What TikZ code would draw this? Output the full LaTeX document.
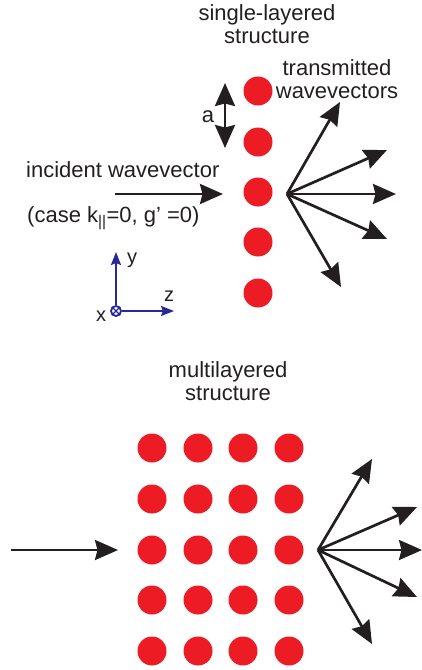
\documentclass[tikz,border=0pt]{standalone}
\usepackage{fontspec}
\setmainfont{Liberation Sans}
\usetikzlibrary{positioning,arrows.meta}
\definecolor{dotclr}{RGB}{237,28,36}
\definecolor{inkclr}{RGB}{35,31,32}
\definecolor{axisclr}{RGB}{40,40,150}
\tikzset{
    atom/.style={circle,fill=dotclr,minimum size=29pt,inner sep=0pt},
    txt/.style={text=inkclr,font=\fontsize{22}{23}\selectfont,inner sep=0pt,align=center},
    axtxt/.style={text=inkclr,font=\fontsize{20}{22}\selectfont,inner sep=0pt},
    wave/.style={-{Stealth[length=23pt,width=20pt,inset=2.5pt]},line width=2.7pt,draw=inkclr},
    spacing/.style={wave,{Stealth[length=23pt,width=20pt,inset=2.5pt]}-{Stealth[length=23pt,width=20pt,inset=2.5pt]}},
    axis/.style={-{Stealth[length=13pt,width=10pt,inset=2pt]},line width=2pt,draw=axisclr},
    axdot/.style={circle,draw=axisclr,line width=1.8pt,minimum size=10pt,inner sep=0pt},
}
\begin{document}
\begin{tikzpicture}[x=1pt,y=-1pt]
\useasboundingbox (0,0) rectangle (422,670);
% single layer
\foreach \j/\yy in {1/91,2/142,3/192,4/242,5/293}
  \node[atom] (s\j) at (258,\yy) {};
\node[txt,anchor=north] (slab) at (267,4) {single-layered\\structure};
\node[txt,anchor=north] (tlab) at (337,59) {transmitted\\wavevectors};
\coordinate (aT) at (225,83);
\coordinate (aB) at (225,148);
\draw[spacing] (aT) -- (aB);
\node[txt,anchor=base] (alab) at (208,122) {a};
\node[txt,anchor=base west] (inlab) at (26,177) {incident wavevector};
\node[txt,anchor=base west] (caselab) at (27,222) {(case k\textsubscript{||}=0, g’ =0)};
\coordinate (inA) at (115,194);
\coordinate (inB) at (223,194);
\draw[wave] (inA) -- (inB);
\coordinate (tr) at (287,194);
\coordinate (t1) at (340,102);
\coordinate (t2) at (387,150);
\coordinate (t3) at (396,194);
\coordinate (t4) at (387,239);
\coordinate (t5) at (341,287);
\foreach \k in {1,...,5}
  \draw[wave] (tr) -- (t\k);
% axes
\node[axdot] (ax) at (116,311) {};
\draw[axisclr,line width=1.3pt] (ax.45) -- (ax.225) (ax.135) -- (ax.315);
\coordinate (ay) at (116,252);
\coordinate (az) at (174,311);
\draw[axis] (ax.north) -- (ay);
\draw[axis] (ax.east) -- (az);
\node[axtxt] (ylab) at (132,260) {y};
\node[axtxt] (zlab) at (169,296) {z};
\node[axtxt] (xlab) at (101,316) {x};
% multilayer
\node[txt,anchor=north] (mlab) at (228,361) {multilayered\\structure};
\foreach \i/\xx in {1/152,2/198,3/243,4/289}
  \foreach \j/\yy in {1/448,2/499,3/550,4/600,5/651}
    \node[atom] (m\i\j) at (\xx,\yy) {};
\coordinate (minA) at (11,550);
\coordinate (minB) at (118,550);
\draw[wave] (minA) -- (minB);
\coordinate (mtr) at (318,550);
\coordinate (mt1) at (372,459);
\coordinate (mt2) at (417,507);
\coordinate (mt3) at (422,550);
\coordinate (mt4) at (417,597);
\coordinate (mt5) at (372,644);
\foreach \k in {1,...,5}
  \draw[wave] (mtr) -- (mt\k);
\end{tikzpicture}
\end{document}
